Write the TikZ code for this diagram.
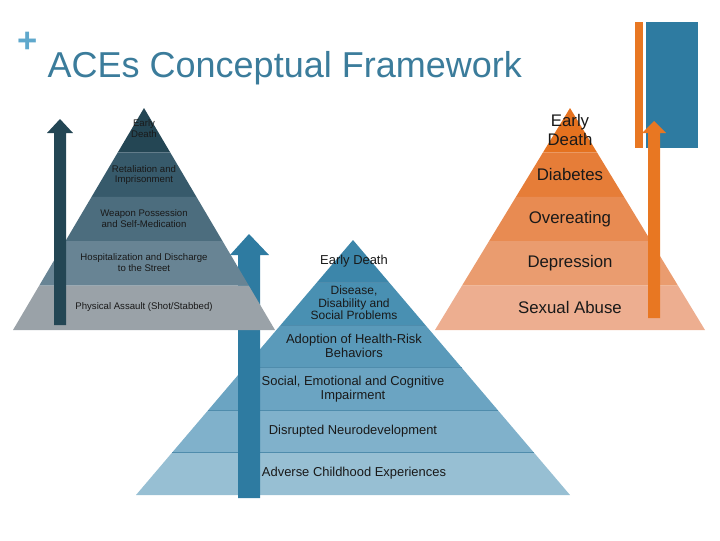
\documentclass[tikz,border=0pt]{standalone}
\usepackage{fontspec}
\setmainfont{Liberation Sans}
\usetikzlibrary{positioning,calc}

\definecolor{lpA}{HTML}{244654}
\definecolor{lpB}{HTML}{375A6B}
\definecolor{lpC}{HTML}{4C6D7E}
\definecolor{lpD}{HTML}{688494}
\definecolor{lpE}{HTML}{9AA2A8}
\definecolor{mpA}{HTML}{3C86AA}
\definecolor{mpB}{HTML}{4990B2}
\definecolor{mpC}{HTML}{5A9ABA}
\definecolor{mpD}{HTML}{6BA4C2}
\definecolor{mpE}{HTML}{80B1CB}
\definecolor{mpF}{HTML}{97BFD3}
\definecolor{rpA}{HTML}{E5721F}
\definecolor{rpB}{HTML}{E67D38}
\definecolor{rpC}{HTML}{E88B52}
\definecolor{rpD}{HTML}{EA9C6F}
\definecolor{rpE}{HTML}{EDAE90}
\definecolor{aceBlue}{HTML}{2E7BA1}
\definecolor{aceOrange}{HTML}{E87722}
\definecolor{aceDark}{HTML}{234654}
\definecolor{titleBlue}{HTML}{3B7C9B}
\definecolor{plusBlue}{HTML}{5FA8CC}
\definecolor{midLine}{HTML}{4F8CAC}

\begin{document}
\begin{tikzpicture}[
  x=0.75pt, y=-0.75pt,
  lefttext/.style={align=center, inner sep=0pt, text=black!90,
    font=\fontsize{7.2}{8.2}\selectfont},
  midtext/.style={align=center, inner sep=0pt, text=black!90,
    font=\fontsize{9.7}{10.6}\selectfont},
  smalltext/.style={midtext, font=\fontsize{9}{9.4}\selectfont},
  righttext/.style={align=center, inner sep=0pt, text=black!90,
    font=\fontsize{12.6}{13.6}\selectfont},
  midline/.style={draw=midLine, line width=0.5pt}
]
\useasboundingbox (0,0) rectangle (720,540);

% Title
\node[text=plusBlue, font=\bfseries\fontsize{26}{26}\selectfont] (plus) at (28,42) {+};
\node[anchor=base west, text=titleBlue, font=\fontsize{27}{30}\selectfont] (title) at (43,77) {ACEs Conceptual Framework};

% Centre pyramid: apex (353,240), half base 217, height 255
\foreach \i/\col in {1/mpA,2/mpB,3/mpC,4/mpD,5/mpE,6/mpF}{
  \fill[\col] ({353-217*(\i-1)/6},{240+255*(\i-1)/6}) -- ({353+217*(\i-1)/6},{240+255*(\i-1)/6})
    -- ({353+217*\i/6},{240+255*\i/6}) -- ({353-217*\i/6},{240+255*\i/6}) -- cycle;
}
\foreach \i in {1,...,5}
  \draw[midline] ({353-217*\i/6},{240+255*\i/6}) -- ({353+217*\i/6},{240+255*\i/6});

% Centre arrow
\fill[aceBlue] (238,498) -- (238,255) -- (230,255) -- (249,234) -- (269,255) -- (260,255) -- (260,498) -- cycle;

\node[midtext] (mDeath) at (354,261) {Early Death};
\node[smalltext] (mDisease) at (354,303) {Disease,\\Disability and\\Social Problems};
\node[midtext] (mRisk) at (354,346) {Adoption of Health-Risk\\Behaviors};
\node[midtext] (mImpair) at (353,389) {Social, Emotional and Cognitive\\Impairment};
\node[midtext] (mNeuro) at (353,431) {Disrupted Neurodevelopment};
\node[midtext] (mACE) at (354,473) {Adverse Childhood Experiences};

% Left pyramid: apex (144,108), half base 131, height 222
\foreach \i/\col in {1/lpA,2/lpB,3/lpC,4/lpD,5/lpE}{
  \fill[\col] ({144-131*(\i-1)/5},{108+222*(\i-1)/5}) -- ({144+131*(\i-1)/5},{108+222*(\i-1)/5})
    -- ({144+131*\i/5},{108+222*\i/5}) -- ({144-131*\i/5},{108+222*\i/5}) -- cycle;
}
\node[lefttext] (lDeath) at (144,129) {Early\\Death};
\node[lefttext] (lPrison) at (144,175) {Retaliation and\\Imprisonment};
\node[lefttext] (lWeapon) at (144,219) {Weapon Possession\\and Self-Medication};
\node[lefttext] (lHosp) at (144,263) {Hospitalization and Discharge\\to the Street};
\node[lefttext] (lAssault) at (144,307) {Physical Assault (Shot/Stabbed)};

% Left arrow
\fill[aceDark] (54,325) -- (54,133) -- (47,133) -- (60,119) -- (73,133) -- (66,133) -- (66,325) -- cycle;

% Right pyramid: apex (570,108), half base 135, height 222
\foreach \i/\col in {1/rpA,2/rpB,3/rpC,4/rpD,5/rpE}{
  \fill[\col] ({570-135*(\i-1)/5},{108+222*(\i-1)/5}) -- ({570+135*(\i-1)/5},{108+222*(\i-1)/5})
    -- ({570+135*\i/5},{108+222*\i/5}) -- ({570-135*\i/5},{108+222*\i/5}) -- cycle;
}
\node[righttext] (rDeath) at (570,130) {Early\\Death};
\node[righttext] (rDiab) at (570,174) {Diabetes};
\node[righttext] (rOver) at (570,219) {Overeating};
\node[righttext] (rDepr) at (570,263) {Depression};
\node[righttext] (rAbuse) at (570,307) {Sexual Abuse};

% Corner blocks
\fill[aceOrange] (635,22) rectangle (643,148);
\fill[aceBlue] (646,22) rectangle (698,148);

% Right arrow
\fill[aceOrange] (648,318) -- (648,133) -- (642,133) -- (654,121) -- (666,133) -- (660,133) -- (660,318) -- cycle;

\end{tikzpicture}
\end{document}
